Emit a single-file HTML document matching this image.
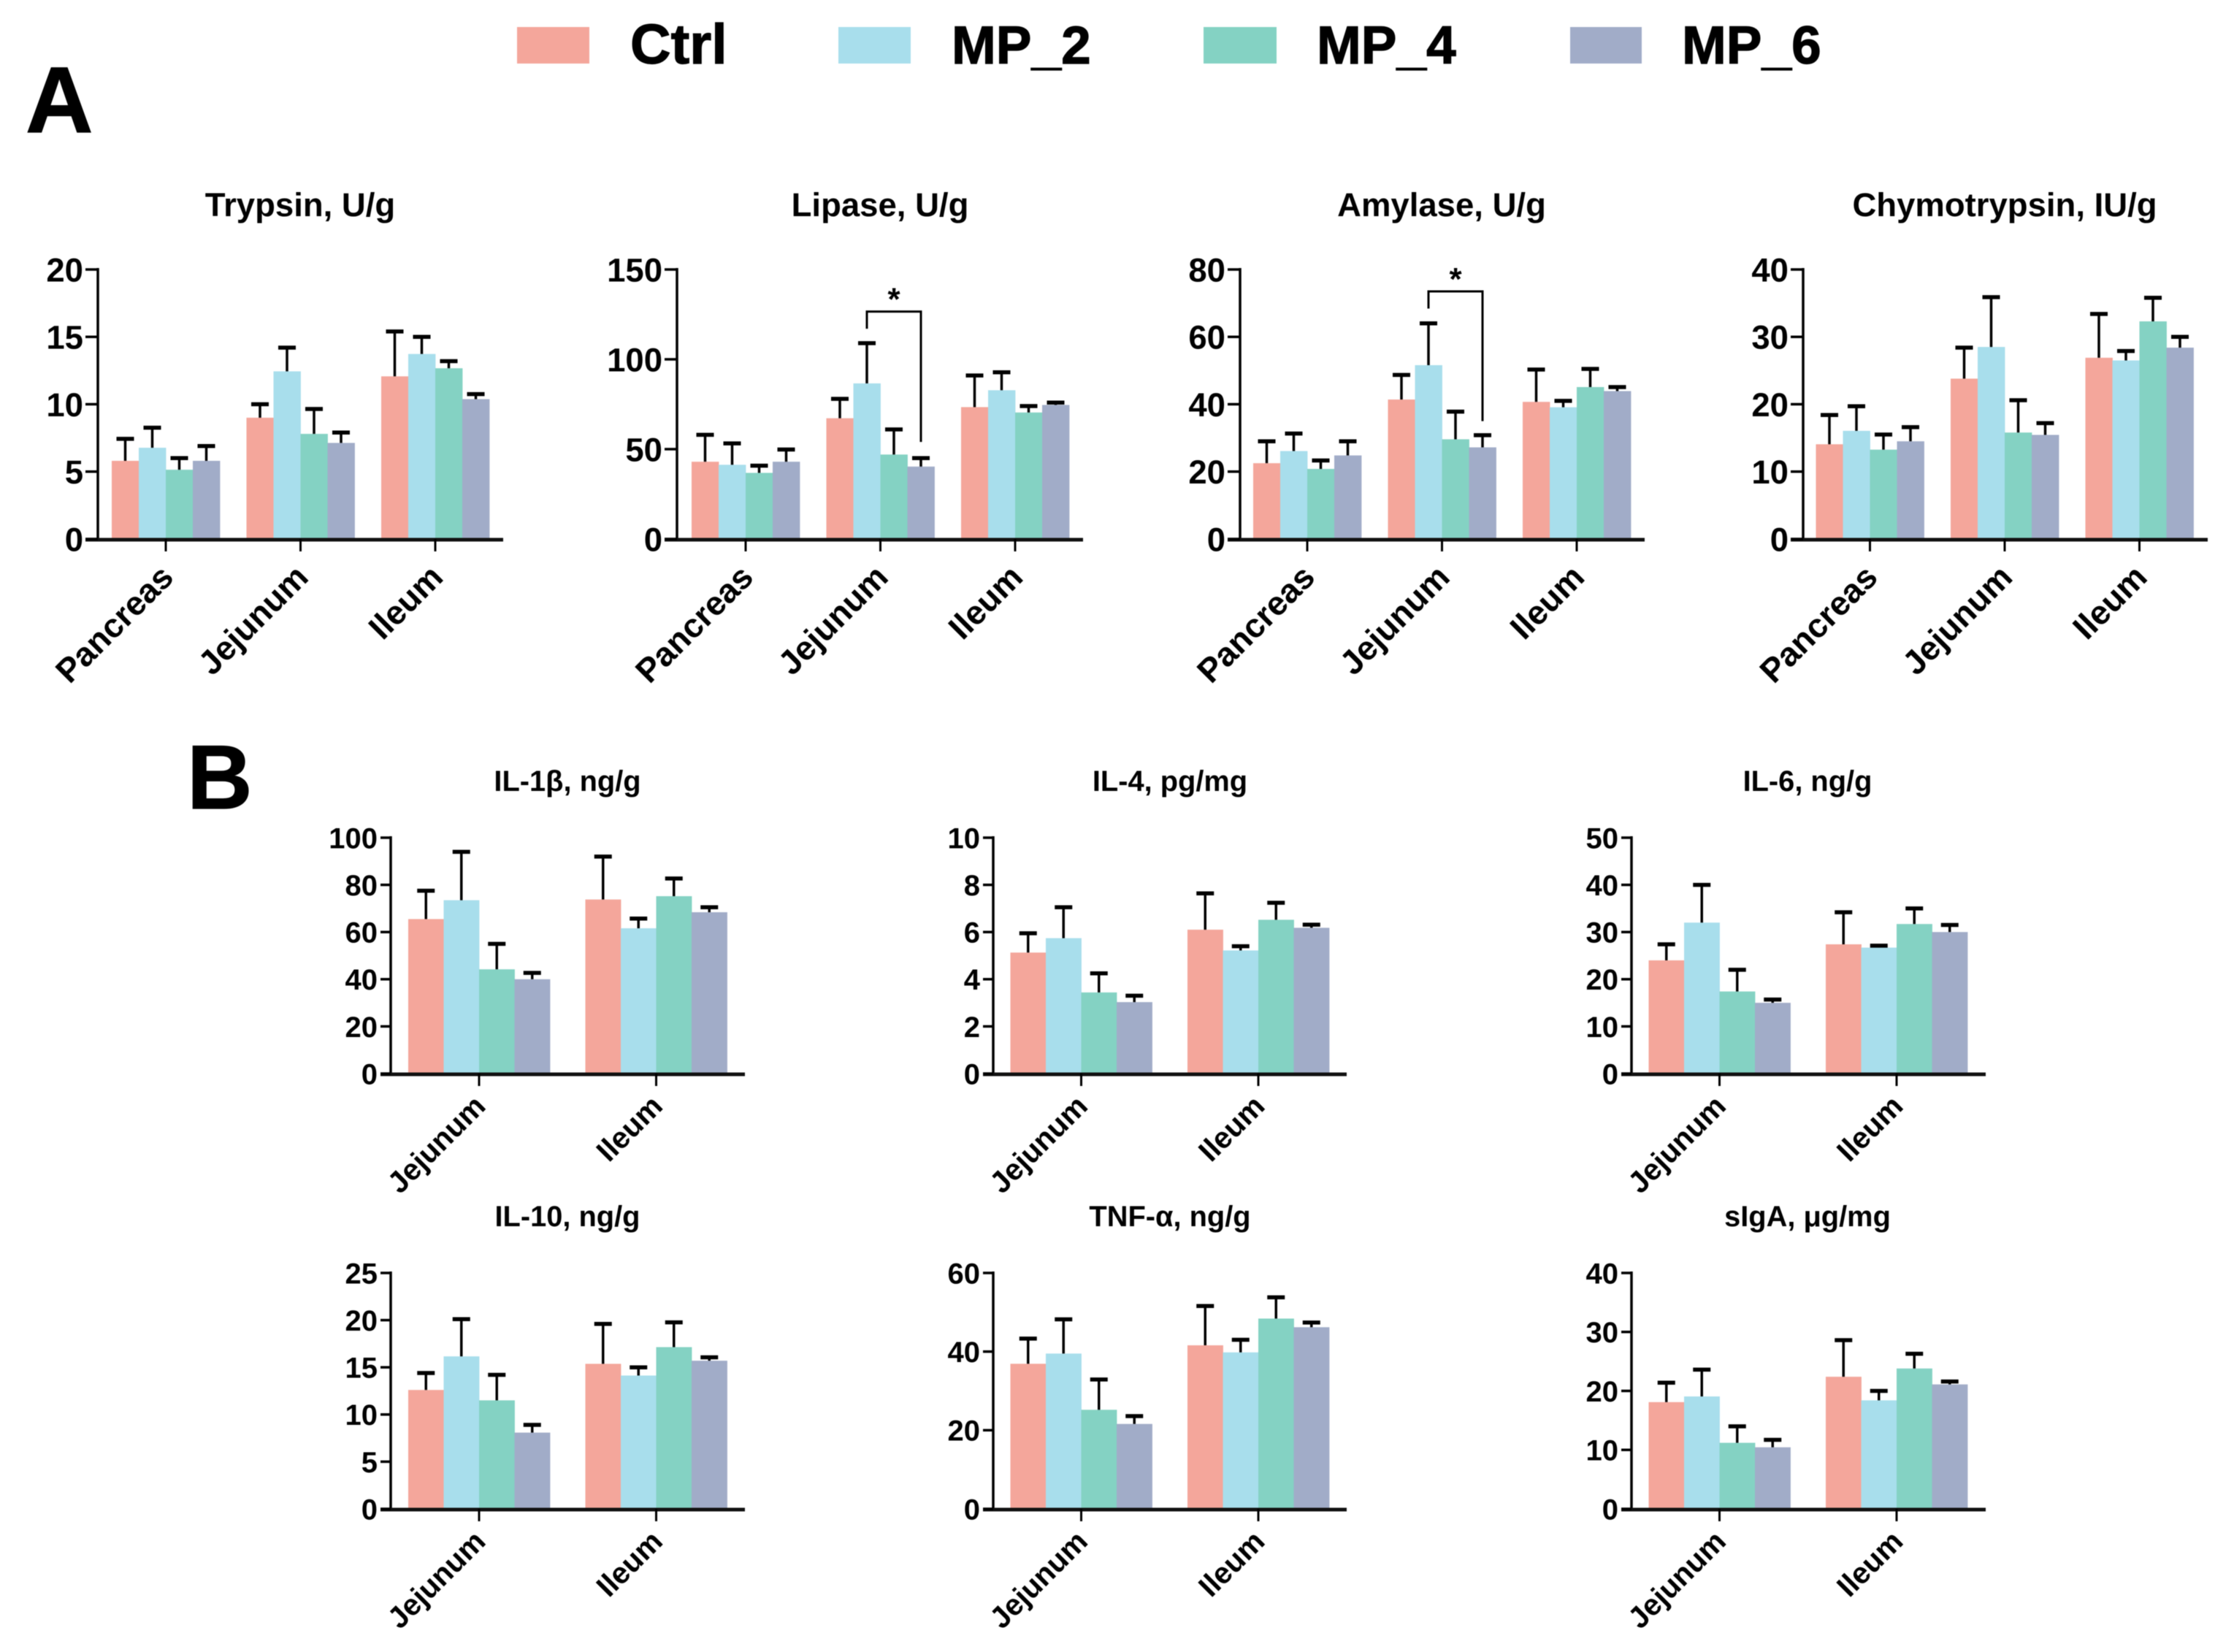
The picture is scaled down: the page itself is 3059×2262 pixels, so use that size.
<!DOCTYPE html>
<html lang="en">
<head>
<meta charset="utf-8">
<title>Enzyme and cytokine bar charts</title>
<style>
  html, body { margin: 0; padding: 0; background: #fff; }
  svg { display: block; filter: blur(0.6px); }
  text { font-family: "Liberation Sans", "DejaVu Sans", sans-serif; font-weight: bold; fill: #000; }
  .heavy { stroke: #000; stroke-width: 1.2px; }
</style>
</head>
<body>
<svg id="figure" xmlns="http://www.w3.org/2000/svg" width="3059" height="2262" viewBox="0 0 3059 2262">
  <rect x="0" y="0" width="3059" height="2262" fill="#fff"/>

  <g>
    <g>
      <rect x="708" y="37" width="99" height="50" fill="#F4A69B"/>
      <text class="heavy" x="863" y="87" font-size="77">Ctrl</text>
    </g>
    <g>
      <rect x="1148" y="37" width="99" height="50" fill="#A8DEEC"/>
      <text class="heavy" x="1303" y="87" font-size="73">MP_2</text>
    </g>
    <g>
      <rect x="1648" y="37" width="100" height="50" fill="#84D2C3"/>
      <text class="heavy" x="1803" y="87" font-size="73">MP_4</text>
    </g>
    <g>
      <rect x="2150" y="37" width="98" height="50" fill="#A1ACC8"/>
      <text class="heavy" x="2303" y="87" font-size="73">MP_6</text>
    </g>
  </g>

  <text class="heavy" x="35" y="181" font-size="128">A</text>
  <text class="heavy" x="256" y="1107" font-size="124">B</text>

  <g id="chart-trypsin">
    <text x="411" y="296" font-size="45.5" text-anchor="middle">Trypsin, U/g</text>
  </g>
  <g id="chart-lipase">
    <text x="1205" y="296" font-size="45.5" text-anchor="middle">Lipase, U/g</text>
  </g>
  <g id="chart-amylase">
    <text x="1974" y="296" font-size="45.5" text-anchor="middle">Amylase, U/g</text>
  </g>
  <g id="chart-chymotrypsin">
    <text x="2745" y="296" font-size="45.5" text-anchor="middle">Chymotrypsin, IU/g</text>
  </g>
  <g id="chart-il1b">
    <text x="777" y="1083" font-size="39.8" text-anchor="middle">IL-1β, ng/g</text>
  </g>
  <g id="chart-il4">
    <text x="1602" y="1083" font-size="39.8" text-anchor="middle">IL-4, pg/mg</text>
  </g>
  <g id="chart-il6">
    <text x="2475" y="1083" font-size="39.8" text-anchor="middle">IL-6, ng/g</text>
  </g>
  <g id="chart-il10">
    <text x="777" y="1679" font-size="39.8" text-anchor="middle">IL-10, ng/g</text>
  </g>
  <g id="chart-tnf">
    <text x="1602" y="1679" font-size="39.8" text-anchor="middle">TNF-α, ng/g</text>
  </g>
  <g id="chart-siga">
    <text x="2475" y="1679" font-size="39.8" text-anchor="middle">sIgA, μg/mg</text>
  </g>
</svg>

<script>
// ---- shared data ----
const seriesNames = ['ctrl', 'mp-2', 'mp-4', 'mp-6'];
const seriesColors = ['#F4A69B', '#A8DEEC', '#84D2C3', '#A1ACC8'];
const threeTissues = ['Pancreas', 'Jejunum', 'Ileum'];
const twoTissues = ['Jejunum', 'Ileum'];

// ---- panel A values: one row per tissue, one column per series ----
const trypsinTicks = [0, 5, 10, 15, 20];
const trypsinMeans = [[5.8, 6.77, 5.14, 5.8], [9.0, 12.44, 7.8, 7.13], [12.07, 13.73, 12.67, 10.38]];
const trypsinUpper = [[7.43, 8.26, 6.0, 6.9], [10.0, 14.2, 9.65, 7.9], [15.4, 15.0, 13.2, 10.75]];

const lipaseTicks = [0, 50, 100, 150];
const lipaseMeans = [[43, 41.3, 36.8, 43], [67.2, 86.6, 47, 40.3], [73.4, 82.8, 70.4, 74.6]];
const lipaseUpper = [[58, 53.2, 40.8, 49.8], [78, 109, 61, 45], [91, 92.8, 74, 75.9]];
const lipaseBracket = [126.6, 117, 54];

const amylaseTicks = [0, 20, 40, 60, 80];
const amylaseMeans = [[22.5, 26.1, 20.8, 24.8], [41.4, 51.6, 29.6, 27.2], [40.7, 39.1, 45.1, 43.9]];
const amylaseUpper = [[29, 31.3, 23.3, 29], [48.7, 64, 37.8, 30.8], [50.3, 41, 50.5, 45.1]];
const amylaseBracket = [73.5, 68.4, 35];

const chymoTicks = [0, 10, 20, 30, 40];
const chymoMeans = [[14.06, 16.05, 13.26, 14.5], [23.8, 28.5, 15.8, 15.45], [26.9, 26.5, 32.3, 28.4]];
const chymoUpper = [[18.4, 19.7, 15.5, 16.6], [28.4, 35.9, 20.6, 17.2], [33.4, 27.9, 35.8, 30]];

// ---- panel B values ----
const il1bTicks = [0, 20, 40, 60, 80, 100];
const il1bMeans = [[65.5, 73.5, 44.2, 40], [73.8, 61.6, 75.2, 68.4]];
const il1bUpper = [[77.5, 94, 55, 42.7], [92, 65.7, 82.7, 70.5]];

const il4Ticks = [0, 2, 4, 6, 8, 10];
const il4Means = [[5.13, 5.74, 3.44, 3.03], [6.1, 5.22, 6.52, 6.18]];
const il4Upper = [[5.95, 7.05, 4.25, 3.3], [7.64, 5.4, 7.24, 6.31]];

const il6Ticks = [0, 10, 20, 30, 40, 50];
const il6Means = [[24, 32, 17.4, 15], [27.4, 26.7, 31.7, 30]];
const il6Upper = [[27.4, 40, 22, 15.7], [34.2, 27.1, 35, 31.5]];

const il10Ticks = [0, 5, 10, 15, 20, 25];
const il10Means = [[12.6, 16.16, 11.5, 8.08], [15.37, 14.13, 17.14, 15.7]];
const il10Upper = [[14.4, 20.1, 14.2, 8.9], [19.6, 15, 19.77, 16.06]];

const tnfTicks = [0, 20, 40, 60];
const tnfMeans = [[36.9, 39.5, 25.2, 21.6], [41.6, 39.8, 48.4, 46.2]];
const tnfUpper = [[43.3, 48.2, 32.9, 23.6], [51.6, 43, 53.8, 47.4]];

const sigaTicks = [0, 10, 20, 30, 40];
const sigaMeans = [[18.1, 19.06, 11.2, 10.44], [22.4, 18.4, 23.8, 21.1]];
const sigaUpper = [[21.4, 23.6, 14, 11.7], [28.6, 20, 26.3, 21.6]];

// ---- drawing ----
const SVG_NS = 'http://www.w3.org/2000/svg';

function make(parent, tag, attrs) {
  const el = document.createElementNS(SVG_NS, tag);
  for (const key in attrs) el.setAttribute(key, attrs[key]);
  parent.appendChild(el);
  return el;
}

function drawChart(id, slug, opts, cats, ticks, means, upper, bracket) {
  const root = document.getElementById(id);
  const yMax = ticks[ticks.length - 1];
  const yScale = v => opts.base - (v / yMax) * (opts.base - opts.top);
  const groupX = g => opts.start + g * opts.step;
  const barLeft = (g, s) => groupX(g) + (s - 2) * opts.barW;
  const barMid = (g, s) => barLeft(g, s) + opts.barW / 2;

  means.forEach((row, g) => {
    row.forEach((v, s) => {
      const bar = make(root, 'rect', {
        x: barLeft(g, s), y: yScale(v), width: opts.barW + 0.4,
        height: opts.base - yScale(v), fill: seriesColors[s]
      });
      
      
    });
  });

  upper.forEach((row, g) => {
    row.forEach((v, s) => {
      const cx = barMid(g, s);
      const stem = make(root, 'line', {
        x1: cx, x2: cx, y1: yScale(means[g][s]), y2: yScale(v),
        stroke: '#000', 'stroke-width': 3.5
      });
      
      
      const cap = make(root, 'line', {
        x1: cx - 12, x2: cx + 12, y1: yScale(v), y2: yScale(v),
        stroke: '#000', 'stroke-width': 5.5
      });
      
      
    });
  });

  const yAxis = make(root, 'line', {
    x1: opts.axisX, x2: opts.axisX, y1: opts.top - 2, y2: opts.base,
    stroke: '#000', 'stroke-width': 3.5
  });
  
  

  const xAxis = make(root, 'line', {
    x1: opts.axisX - opts.tickLen, x2: opts.axisEnd, y1: opts.base + 1, y2: opts.base + 1,
    stroke: '#111', 'stroke-width': 5
  });
  
  

  ticks.forEach(t => {
    const tick = make(root, 'line', {
      x1: opts.axisX - opts.tickLen, x2: opts.axisX, y1: yScale(t), y2: yScale(t),
      stroke: '#000', 'stroke-width': 3.5
    });
    
    
    const label = make(root, 'text', {
      x: opts.axisX - opts.labelGap, y: yScale(t) + opts.tickFont * 0.36,
      'font-size': opts.tickFont, 'text-anchor': 'end'
    });
    label.textContent = String(t);
    
    
  });

  cats.forEach((cat, g) => {
    const cx = groupX(g);
    const tick = make(root, 'line', {
      x1: cx, x2: cx, y1: opts.base, y2: opts.base + 17,
      stroke: '#000', 'stroke-width': 3
    });
    
    
    const ax = cx + opts.catDx;
    const ay = opts.base + opts.catDy;
    const label = make(root, 'text', {
      x: ax, y: ay, 'font-size': opts.catFont, 'text-anchor': 'end',
      transform: 'rotate(-45 ' + ax + ' ' + ay + ')'
    });
    label.textContent = cat;
    
    
  });

  if (bracket) {
    const left = barMid(1, 1);
    const right = barMid(1, 3);
    const topY = yScale(bracket[0]);
    const path = make(root, 'path', {
      d: 'M' + left + ' ' + yScale(bracket[1]) + 'V' + topY + 'H' + right + 'V' + yScale(bracket[2]),
      fill: 'none', stroke: '#000', 'stroke-width': 3
    });
    
    
    const star = make(root, 'text', {
      x: (left + right) / 2, y: topY - 2, 'font-size': 44, 'text-anchor': 'middle'
    });
    star.textContent = '*';
    
    
  }
}

function panelA(start, axisX, axisEnd) {
  return { start: start, step: 184.5, barW: 37, axisX: axisX, axisEnd: axisEnd, top: 369, base: 738,
           tickLen: 17, labelGap: 20, tickFont: 45.5, catFont: 46, catDx: 13, catDy: 55 };
}
function panelB(start, axisX, axisEnd, top, base) {
  return { start: start, step: 242.5, barW: 48.5, axisX: axisX, axisEnd: axisEnd, top: top, base: base,
           tickLen: 14, labelGap: 18, tickFont: 40, catFont: 41, catDx: 11, catDy: 47 };
}

drawChart('chart-trypsin', 'trypsin', panelA(227, 134, 689), threeTissues, trypsinTicks, trypsinMeans, trypsinUpper);
drawChart('chart-lipase', 'lipase', panelA(1021, 927, 1483), threeTissues, lipaseTicks, lipaseMeans, lipaseUpper, lipaseBracket);
drawChart('chart-amylase', 'amylase', panelA(1790, 1698, 2252), threeTissues, amylaseTicks, amylaseMeans, amylaseUpper, amylaseBracket);
drawChart('chart-chymotrypsin', 'chymotrypsin', panelA(2560.5, 2469, 3023), threeTissues, chymoTicks, chymoMeans, chymoUpper);

drawChart('chart-il1b', 'il-1b', panelB(656, 535, 1020, 1147, 1470), twoTissues, il1bTicks, il1bMeans, il1bUpper);
drawChart('chart-il4', 'il-4', panelB(1480.5, 1360, 1844, 1147, 1470), twoTissues, il4Ticks, il4Means, il4Upper);
drawChart('chart-il6', 'il-6', panelB(2354.5, 2234, 2719, 1147, 1470), twoTissues, il6Ticks, il6Means, il6Upper);
drawChart('chart-il10', 'il-10', panelB(656, 535, 1020, 1743, 2066), twoTissues, il10Ticks, il10Means, il10Upper);
drawChart('chart-tnf', 'tnf-alpha', panelB(1480.5, 1360, 1844, 1743, 2066), twoTissues, tnfTicks, tnfMeans, tnfUpper);
drawChart('chart-siga', 'siga', panelB(2354.5, 2234, 2719, 1743, 2066), twoTissues, sigaTicks, sigaMeans, sigaUpper);
</script>
</body>
</html>
